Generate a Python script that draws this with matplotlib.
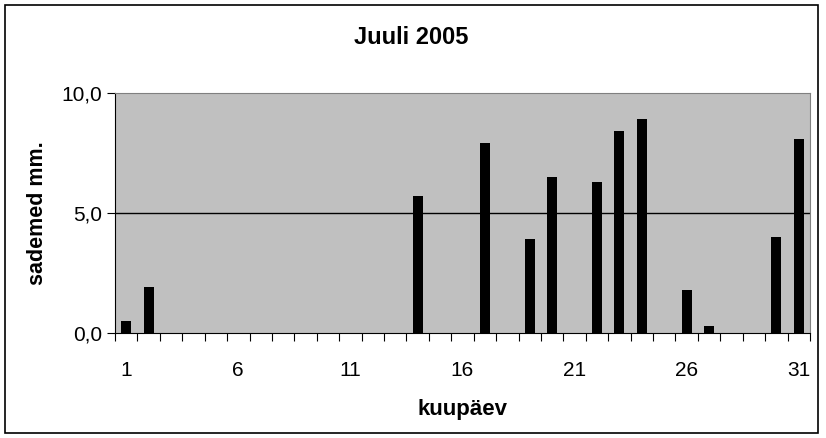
import matplotlib.pyplot as plt
import numpy as np
from matplotlib.patches import Rectangle

plt.rcParams['font.family'] = ['Liberation Sans', 'DejaVu Sans']

# Sademed juulis 2005 (mm)
days = list(range(1, 32))
rain = [0.5, 1.9, 0, 0, 0, 0, 0, 0, 0, 0, 0, 0, 0, 5.7, 0, 0, 7.9, 0, 3.9, 6.5,
        0, 6.3, 8.4, 8.9, 0, 1.8, 0.3, 0, 0, 4.0, 8.1]
xtick_days = [1, 6, 11, 16, 21, 26, 31]
yticks = [0, 5, 10]
ytick_labels = ['0,0', '5,0', '10,0']

fig = plt.figure(figsize=(8.26, 4.38), dpi=100)
ax = fig.add_axes([115 / 826, 1 - 333 / 438, 695 / 826, 240 / 438])
ax.set_facecolor('#c0c0c0')

ax.bar(days, rain, width=0.45, color='black', zorder=3)
ax.set_xlim(0.5, 31.5)
ax.set_ylim(0, 10)

ax.set_yticks(yticks)
ax.set_yticklabels(ytick_labels, fontsize=15)
ax.axhline(5, color='black', lw=1, zorder=2)

# category axis: ticks between categories, labels at centres
ax.set_xticks(np.arange(0.5, 32, 1))
ax.set_xticklabels([])
ax.set_xticks(xtick_days, minor=True)
ax.set_xticklabels([str(d) for d in xtick_days], minor=True, fontsize=15)
ax.tick_params(axis='x', which='minor', length=0, pad=20)
ax.tick_params(axis='x', which='major', length=6, direction='out', color='black')
ax.tick_params(axis='y', length=6, direction='out', color='black', pad=3)

for s in ['top', 'right']:
    ax.spines[s].set_color('#808080')
for s in ['left', 'bottom']:
    ax.spines[s].set_color('black')

ax.set_ylabel('sademed mm.', fontsize=15.5, fontweight='bold', labelpad=10)
ax.set_xlabel('kuupäev', fontsize=16, fontweight='bold', labelpad=14)
fig.text(411 / 826, 1 - 38 / 438, 'Juuli 2005', fontsize=17, fontweight='bold',
         ha='center', va='center')

fig.patches.append(Rectangle((5 / 826, 5 / 438), 813 / 826, 428 / 438,
                             transform=fig.transFigure, fill=False,
                             edgecolor='black', lw=1.2))

fig.savefig('out.png', dpi=100)
